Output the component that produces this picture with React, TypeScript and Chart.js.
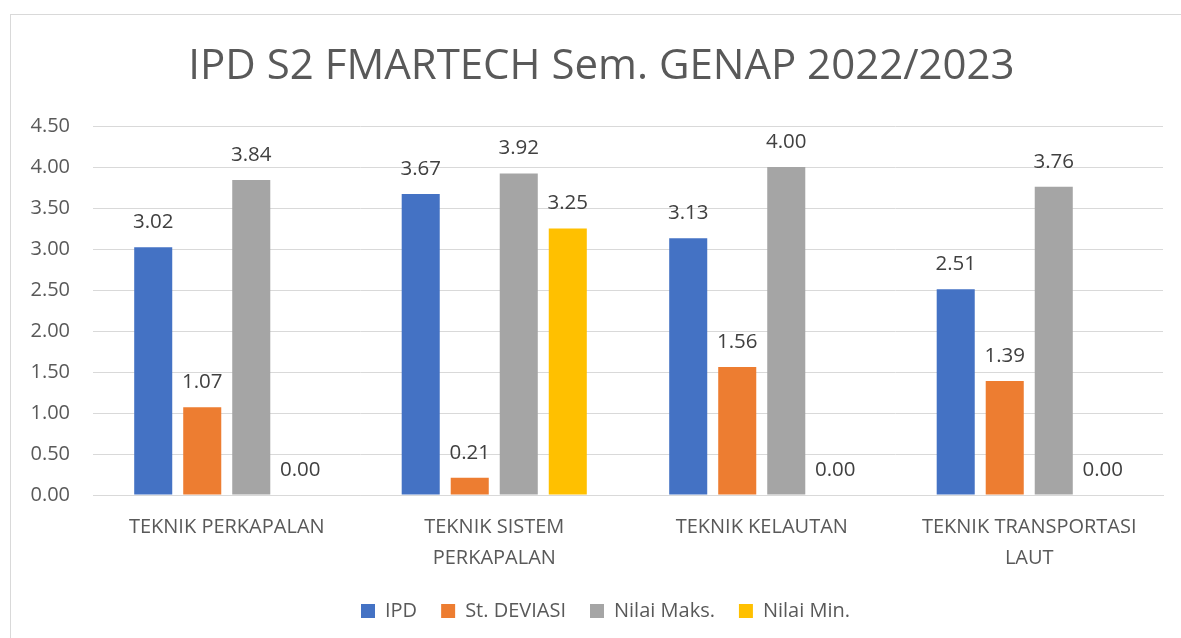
import React, { useEffect, useRef } from "react";
import { Chart, registerables } from "chart.js";

Chart.register(...registerables);

const categories: (string | string[])[] = [
  "TEKNIK PERKAPALAN",
  ["TEKNIK SISTEM", "PERKAPALAN"],
  "TEKNIK KELAUTAN",
  ["TEKNIK TRANSPORTASI", "LAUT"],
];
const ipd = [3.02, 3.67, 3.13, 2.51];
const stDeviasi = [1.07, 0.21, 1.56, 1.39];
const nilaiMaks = [3.84, 3.92, 4.0, 3.76];
const nilaiMin = [0.0, 3.25, 0.0, 0.0];
const seriesNames = ["IPD", "St. DEVIASI", "Nilai Maks.", "Nilai Min."];
const seriesColors = ["#4472C4", "#ED7D31", "#A5A5A5", "#FFC000"];
const titleText = "IPD S2 FMARTECH Sem. GENAP 2022/2023";

const FONT = "'Open Sans', 'Noto Sans', sans-serif";

const dataLabelPlugin = {
  id: "dataLabels",
  afterDatasetsDraw(chart: any) {
    const ctx = chart.ctx;
    ctx.save();
    ctx.font = `20.5px ${FONT}`;
    ctx.fillStyle = "#404040";
    ctx.textAlign = "center";
    ctx.textBaseline = "middle";
    chart.data.datasets.forEach((ds: any, i: number) => {
      const meta = chart.getDatasetMeta(i);
      meta.data.forEach((bar: any, j: number) => {
        const v = ds.data[j] as number;
        ctx.fillText(v.toFixed(2), bar.x, bar.y - 25);
      });
    });
    ctx.restore();
  },
};

const borderPlugin = {
  id: "outerBorder",
  beforeDraw(chart: any) {
    const ctx = chart.ctx;
    ctx.save();
    ctx.fillStyle = "#ffffff";
    ctx.fillRect(0, 0, chart.width, chart.height);
    ctx.strokeStyle = "#d9d9d9";
    ctx.lineWidth = 1;
    ctx.strokeRect(10.5, 14.5, 1300, 1000);
    ctx.restore();
  },
};

// centre title and legend on the chart frame rather than on the canvas
const centerShiftPlugin = {
  id: "centerShift",
  afterLayout(chart: any) {
    const t = chart.titleBlock;
    if (t) {
      t.left += 20;
      t.right += 20;
    }
    const l = chart.legend;
    if (l) {
      l.left += 24;
      l.right += 24;
    }
  },
};

export default function App() {
  const canvasRef = useRef<HTMLCanvasElement | null>(null);

  useEffect(() => {
    document.body.style.margin = "0";
    const canvas = canvasRef.current;
    if (!canvas) return;
    const data = [ipd, stDeviasi, nilaiMaks, nilaiMin];
    const chart = new Chart(canvas, {
      type: "bar",
      data: {
        labels: categories as any,
        datasets: data.map((d, i) => ({
          label: seriesNames[i],
          data: d,
          backgroundColor: seriesColors[i],
          borderWidth: 0,
          categoryPercentage: 0.733,
          barPercentage: 0.776,
        })),
      },
      options: {
        responsive: false,
        animation: false,
        layout: { padding: { left: 0, right: 18, top: 0, bottom: 7 } },
        plugins: {
          title: {
            display: true,
            text: titleText,
            color: "#595959",
            font: { family: FONT, size: 42, weight: "normal", lineHeight: 1.2 },
            padding: { top: 42, bottom: 33.6 },
          },
          legend: {
            position: "bottom",
            labels: {
              boxWidth: 14,
              boxHeight: 14,
              padding: 24,
              color: "#595959",
              font: { family: FONT, size: 20 },
            },
          },
          tooltip: { enabled: false },
        },
        scales: {
          x: {
            grid: { display: false, drawTicks: false },
            border: { display: true, color: "#d9d9d9", width: 1 },
            ticks: {
              color: "#595959",
              padding: 17,
              maxRotation: 0,
              autoSkip: false,
              font: { family: FONT, size: 20, lineHeight: 1.55 },
            },
            afterFit: (scale: any) => {
              scale.height = 82;
            },
          },
          y: {
            min: 0,
            max: 4.5,
            grid: { color: "#d9d9d9", drawTicks: false },
            border: { display: false },
            ticks: {
              stepSize: 0.5,
              padding: 23,
              color: "#595959",
              font: { family: FONT, size: 20 },
              callback: (v: any) => Number(v).toFixed(2),
            },
            afterFit: (scale: any) => {
              scale.width = 93;
            },
          },
        },
      },
      plugins: [borderPlugin, centerShiftPlugin, dataLabelPlugin],
    });
    return () => chart.destroy();
  }, []);

  return (
    <div style={{ width: 1181, height: 638 }}>
      <canvas ref={canvasRef} width={1181} height={638} />
    </div>
  );
}
